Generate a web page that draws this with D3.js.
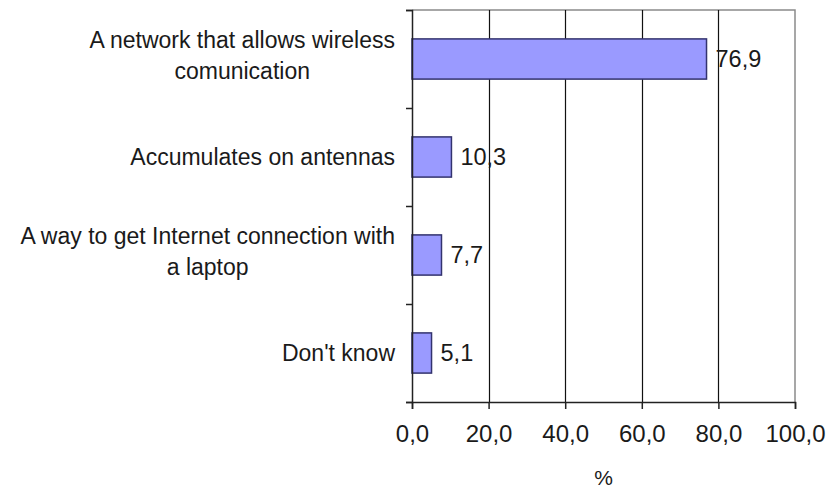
<!DOCTYPE html>
<html>
<head>
<meta charset="utf-8">
<script src="https://cdn.jsdelivr.net/npm/d3@7"></script>
<style>
  html, body { margin: 0; padding: 0; background: #fff; }
  svg { display: block; font-family: "Liberation Sans", Arial, sans-serif; }
</style>
</head>
<body>
<svg id="chart" width="828" height="488"></svg>
<script>
// Survey answers, one line per entry of the wrapped label
const categories = [
  ["A network that allows wireless", "comunication"],
  ["Accumulates on antennas"],
  ["A way to get Internet connection with", "a laptop"],
  ["Don't know"]
];
const values = [76.9, 10.3, 7.7, 5.1];
const xTicks = [0, 20, 40, 60, 80, 100];
const axisTitle = "%";

const fmt = v => d3.format(".1f")(v).replace(".", ",");

const svg = d3.select("#chart");
const plot = { left: 412, right: 795, top: 10, bottom: 402 };

const x = d3.scaleLinear().domain([0, 100]).range([plot.left, plot.right]);
const y = d3.scaleBand()
  .domain(d3.range(categories.length))
  .range([plot.top, plot.bottom])
  .paddingInner(0.59)
  .paddingOuter(0.295);
// boundaries between categories, for the left-axis tick marks
const yEdge = d3.scaleLinear().domain([0, categories.length]).range([plot.top, plot.bottom]);

// Plot frame (top and right)
svg.append("path")
  .attr("d", `M${plot.left},${plot.top}H${plot.right}V${plot.bottom}`)
  .attr("fill", "none").attr("stroke", "#8a8a8a").attr("stroke-width", 1.5);

// Vertical gridlines
svg.append("g").selectAll("line")
  .data(xTicks.filter(t => t > 0 && t < 100))
  .join("line")
  .attr("x1", d => Math.round(x(d)) + 0.5).attr("x2", d => Math.round(x(d)) + 0.5)
  .attr("y1", plot.top).attr("y2", plot.bottom)
  .attr("stroke", "#111").attr("stroke-width", 1.2);

// Bars
svg.append("g").selectAll("rect")
  .data(values)
  .join("rect")
  .attr("x", x(0))
  .attr("y", (d, i) => y(i))
  .attr("width", d => x(d) - x(0))
  .attr("height", y.bandwidth())
  .attr("fill", "#9a9aff")
  .attr("stroke", "#33336e")
  .attr("stroke-width", 1.5);

// Value labels
svg.append("g").selectAll("text")
  .data(values)
  .join("text")
  .attr("x", d => x(d) + 9)
  .attr("y", (d, i) => y(i) + y.bandwidth() / 2)
  .attr("dy", "0.36em")
  .attr("font-size", 23.5)
  .attr("fill", "#1a1a1a")
  .text(d => fmt(d));

// Bottom axis
const xAxis = svg.append("g")
  .attr("transform", `translate(0,${plot.bottom})`)
  .call(d3.axisBottom(x).tickValues(xTicks).tickSize(7).tickPadding(16).tickFormat(fmt));
xAxis.select(".domain").attr("stroke", "#222").attr("stroke-width", 1.5);
xAxis.selectAll(".tick line").attr("stroke", "#222").attr("stroke-width", 1.5);
xAxis.selectAll(".tick text")
  .attr("font-size", 24).attr("fill", "#1a1a1a")
  .attr("font-family", "Liberation Sans, Arial, sans-serif");

// Left axis with marks between categories
const yAxis = svg.append("g")
  .attr("transform", `translate(${plot.left},0)`)
  .call(d3.axisLeft(yEdge).tickValues(d3.range(categories.length + 1)).tickSize(6).tickFormat(""));
yAxis.select(".domain").attr("stroke", "#222").attr("stroke-width", 1.5);
yAxis.selectAll(".tick line").attr("stroke", "#222").attr("stroke-width", 1.5);

// Category labels: lines centered within a block that is right-aligned to the axis
const labelRight = 395;
const lineH = 31;
const lab = svg.append("g").attr("font-size", 23).attr("fill", "#1a1a1a");
categories.forEach((lines, i) => {
  const g = lab.append("g");
  const cy = y(i) + y.bandwidth() / 2 - (lines.length > 1 ? 4 : 0);
  const t = g.selectAll("text").data(lines).join("text")
    .attr("text-anchor", "middle")
    .attr("y", (d, k) => cy + (k - (lines.length - 1) / 2) * lineH)
    .attr("dy", "0.36em")
    .text(d => d);
  const widths = t.nodes().map(n => n.getComputedTextLength());
  const w = d3.max(widths);
  t.attr("x", labelRight - w / 2);
});

// Axis title
svg.append("text")
  .attr("x", (plot.left + plot.right) / 2)
  .attr("y", 485)
  .attr("text-anchor", "middle")
  .attr("font-size", 21)
  .attr("fill", "#1a1a1a")
  .text(axisTitle);
</script>
</body>
</html>
